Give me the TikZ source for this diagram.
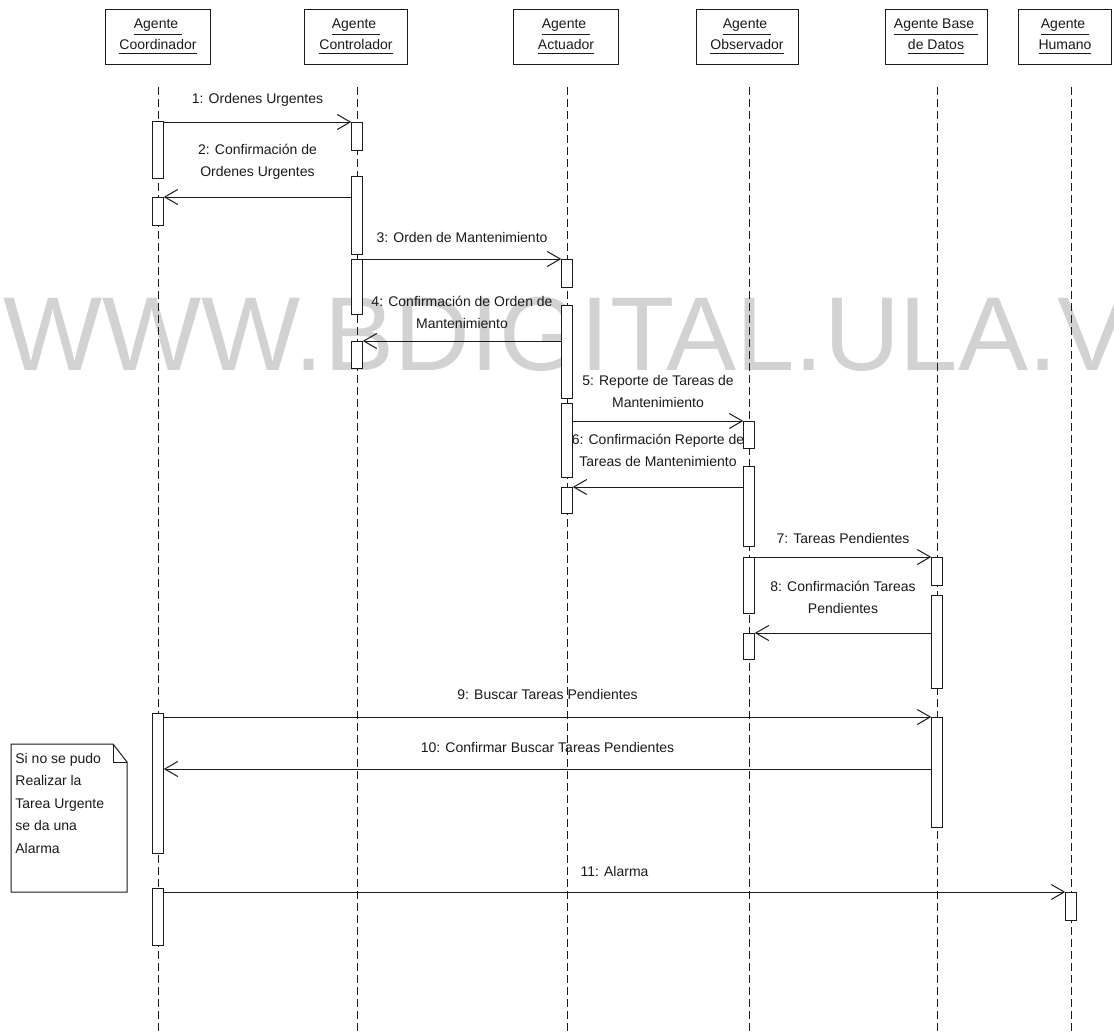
\documentclass[tikz,border=0pt]{standalone}
\usepackage{fontspec}
\setmainfont{Liberation Sans}
\usepackage{tikz}
\usetikzlibrary{arrows.meta}
\definecolor{SeqInk}{HTML}{1A1A1A}
\definecolor{SeqMark}{HTML}{D2D2D2}
\tikzset{
  agentbox/.style={draw=SeqInk,line width=0.5pt,align=center,minimum height=27.5pt,inner sep=1pt,font=\fontsize{7}{10.75}\selectfont,text=SeqInk},
  lifeline/.style={draw=SeqInk,line width=0.45pt,dash pattern=on 4pt off 2pt},
  actbar/.style={draw=SeqInk,fill=white,line width=0.5pt,minimum width=5.25pt,inner sep=0pt,anchor=north},
  msgarrow/.style={-{Straight Barb[length=6.5pt,width=7.5pt,line width=0.5pt]},line width=0.5pt,draw=SeqInk},
  msglabel/.style={midway,anchor=base,align=center,inner sep=0pt,font=\fontsize{7}{10.75}\selectfont,text=SeqInk},
  notebox/.style={draw=SeqInk,line width=0.5pt},
  notetext/.style={anchor=base west,align=left,inner sep=0pt,font=\fontsize{7}{11.25}\selectfont,text=SeqInk},
  watermark/.style={anchor=base west,inner sep=0pt,text=SeqMark,font=\fontsize{52.5}{60}\selectfont}
}

\begin{document}
\begin{tikzpicture}[x=0.5pt,y=-0.5pt]
\useasboundingbox (0,0) rectangle (1114,1033);
\node[watermark] (wm) at (3,370) {WWW.BDIGITAL.ULA.VE};
\foreach \x in {158,357,567,749,937,1071}{\draw[lifeline] (\x,87)--(\x,1033);}
\node[agentbox,minimum width=52.5pt] (coord) at (158,36.5) {\underline{Agente\ }\\\underline{Coordinador}};
\node[agentbox,minimum width=51.5pt] (contr) at (356,36.5) {\underline{Agente\ }\\\underline{Controlador}};
\node[agentbox,minimum width=52.5pt] (actua) at (566,36.5) {\underline{Agente\ }\\\underline{Actuador}};
\node[agentbox,minimum width=51pt] (obser) at (747,36.5) {\underline{Agente\ }\\\underline{Observador}};
\node[agentbox,minimum width=51pt] (basedat) at (936,36.5) {\underline{Agente Base\ }\\\underline{de Datos}};
\node[agentbox,minimum width=46.5pt] (human) at (1065,36.5) {\underline{Agente\ }\\\underline{Humano}};
\foreach \n/\x/\t/\b in {co1/158/121/178,co2/158/197/225,co3/158/713/853,co4/158/888/945,
  cn1/357/122/150,cn2/357/176/254,cn3/357/259/314,cn4/357/341/368,
  ac1/567/259/287,ac2/567/305/398,ac3/567/403/477,ac4/567/487/513,
  ob1/749/421/448,ob2/749/466/546,ob3/749/557/613,ob4/749/633/659,
  bd1/937/557/585,bd2/937/595/688,bd3/937/717/827,hu1/1071/892/920}{
  \node[actbar,minimum height={(\b-\t)*0.5pt}] (\n) at (\x,\t) {};}
\coordinate (m10) at (547,769);
\draw[msgarrow] (co1.east |- cn1.north)--(cn1.north west) node[msglabel,yshift=9.5pt] {1: Ordenes Urgentes};
\draw[msgarrow] (cn2.west |- co2.north)--(co2.north east) node[msglabel,yshift=10.5pt] {2: Confirmación de\\Ordenes Urgentes};
\draw[msgarrow] (cn3.east |- ac1.north)--(ac1.north west) node[msglabel,yshift=8.5pt] {3: Orden de Mantenimiento};
\draw[msgarrow] (ac2.west |- cn4.north)--(cn4.north east) node[msglabel,yshift=6.5pt] {4: Confirmación de Orden de\\Mantenimiento};
\draw[msgarrow] (ac3.east |- ob1.north)--(ob1.north west) node[msglabel,yshift=7pt] {5: Reporte de Tareas de\\Mantenimiento};
\draw[msgarrow] (ob2.west |- ac4.north)--(ac4.north east) node[msglabel,yshift=10.5pt] {6: Confirmación Reporte de\\Tareas de Mantenimiento};
\draw[msgarrow] (ob3.east |- bd1.north)--(bd1.north west) node[msglabel,yshift=7pt] {7: Tareas Pendientes};
\draw[msgarrow] (bd2.west |- ob4.north)--(ob4.north east) node[msglabel,yshift=10pt] {8: Confirmación Tareas\\Pendientes};
\draw[msgarrow] (co3.east |- bd3.north)--(bd3.north west) node[msglabel,yshift=9pt] {9: Buscar Tareas Pendientes};
\draw[msgarrow] (bd3.west |- m10)--(co3.east |- m10) node[msglabel,yshift=8.5pt] {10: Confirmar Buscar Tareas Pendientes};
\draw[msgarrow] (co4.east |- hu1.north)--(hu1.north west) node[msglabel,yshift=8pt] {11: Alarma};
\draw[notebox] (11,744)--(113,744)--(127,762)--(127,892)--(11,892)--cycle;
\draw[notebox] (113,744)--(113,762)--(127,762);
\node[notetext] (note) at (15,853) {Si no se pudo\\Realizar la\\Tarea Urgente\\se da una\\Alarma};
\end{tikzpicture}
\end{document}
